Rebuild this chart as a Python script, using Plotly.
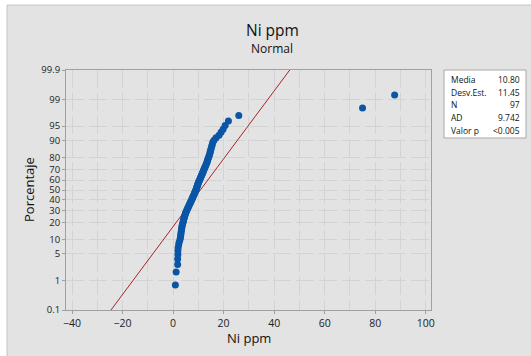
import plotly.graph_objects as go
from statistics import NormalDist

# ---- data ----
ni_ppm = [0.9, 1.2, 1.8, 1.8, 1.9, 1.9, 2.0, 2.2, 2.4, 2.7, 2.9,
          3.0, 3.1, 3.2, 3.3, 3.4, 3.5, 3.6, 3.8, 3.9,
          4.1, 4.2, 4.3, 4.5, 4.6, 4.8, 4.9, 5.1, 5.3,
          5.5, 5.7, 5.9, 6.1, 6.3, 6.5, 6.7, 6.9, 7.1, 7.3,
          7.5, 7.7, 7.8, 8.0, 8.2, 8.4, 8.5, 8.7, 8.9, 9.0,
          9.2, 9.3, 9.4, 9.6, 9.7, 9.8, 10.0, 10.1, 10.3,
          10.5, 10.7, 10.9, 11.0, 11.2, 11.4, 11.6, 11.8, 11.9, 12.1,
          12.3, 12.5, 12.7, 12.9, 13.1, 13.3, 13.5, 13.6, 13.8, 14.0,
          14.2, 14.4, 14.6, 14.7, 14.9, 15.1, 15.3, 15.5, 15.7,
          16.2, 17.0, 18.2, 19.0, 19.8, 20.6, 21.9, 26.0,
          75.0, 87.7]
mean_val = 10.80
sd_val = 11.45
stat_labels = ["Media", "Desv.Est.", "N", "AD", "Valor p"]
stat_values = ["10.80", "11.45", "97", "9.742", "<0.005"]
pct_ticks = [0.1, 1, 5, 10, 20, 30, 40, 50, 60, 70, 80, 90, 95, 99, 99.9]
pct_labels = ["0.1", "1", "5", "10", "20", "30", "40", "50", "60", "70", "80", "90", "95", "99", "99.9"]
x_ticks = [-40, -20, 0, 20, 40, 60, 80, 100]

nd = NormalDist()
n = len(ni_ppm)
xs = sorted(ni_ppm)
zs = [nd.inv_cdf((i + 1 - 0.3) / (n + 0.4)) for i in range(n)]
ytick_z = [nd.inv_cdf(p / 100.0) for p in pct_ticks]
zmin, zmax = nd.inv_cdf(0.001), nd.inv_cdf(0.999)

# layout geometry (pixels)
W, H = 531, 356
L, R, T, B = 66, 431, 70, 310
pw, ph = R - L, B - T
def px(x): return (x - L) / pw
def py(y): return (B - y) / ph

FONT = "Open Sans"
GRID = "#d3d3d3"

fig = go.Figure()
fig.add_trace(go.Scatter(
    x=[mean_val + zmin * sd_val, mean_val + zmax * sd_val], y=[zmin, zmax],
    mode="lines", line=dict(color="#a3262a", width=1), hoverinfo="skip"))
fig.add_trace(go.Scatter(
    x=xs, y=zs, mode="markers",
    marker=dict(color="#0a55a6", size=7, line=dict(width=0))))

shapes = [
    # gray panel
    dict(type="rect", xref="paper", yref="paper",
         x0=px(7), x1=px(W + 5), y0=py(H + 5), y1=py(5),
         fillcolor="#e3e3e3", line=dict(color="#c4c4c4", width=1), layer="below"),
    # stats box
    dict(type="rect", xref="paper", yref="paper",
         x0=px(444), x1=px(526), y0=py(138), y1=py(70),
         fillcolor="white", line=dict(color="#a8a8a8", width=1)),
]

annotations = [
    dict(text="Ni ppm", x=px(272), y=py(30), xref="paper", yref="paper",
         showarrow=False, font=dict(family=FONT, size=15.5, color="#111"),
         xanchor="center", yanchor="middle"),
    dict(text="Normal", x=px(272), y=py(48), xref="paper", yref="paper",
         showarrow=False, font=dict(family=FONT, size=12, color="#111"),
         xanchor="center", yanchor="middle"),
    dict(text="Porcentaje", x=px(29), y=py(190), xref="paper", yref="paper",
         showarrow=False, textangle=-90, font=dict(family=FONT, size=13, color="#111"),
         xanchor="center", yanchor="middle"),
    dict(text="Ni ppm", x=px(249), y=py(338), xref="paper", yref="paper",
         showarrow=False, font=dict(family=FONT, size=13, color="#111"),
         xanchor="center", yanchor="middle"),
]
row_y = [79, 92.5, 104.5, 117.5, 130]
for lab, val, yy in zip(stat_labels, stat_values, row_y):
    annotations.append(dict(text=lab, x=px(449), y=py(yy), xref="paper", yref="paper",
                            showarrow=False, xanchor="left", yanchor="middle",
                            font=dict(family=FONT, size=8.5, color="#111")))
    annotations.append(dict(text=val, x=px(522), y=py(yy), xref="paper", yref="paper",
                            showarrow=False, xanchor="right", yanchor="middle",
                            font=dict(family=FONT, size=8.5, color="#111")))

fig.update_layout(
    width=W, height=H,
    margin=dict(l=L, r=W - R, t=T, b=H - B),
    paper_bgcolor="white", plot_bgcolor="white",
    showlegend=False,
    shapes=shapes, annotations=annotations,
    xaxis=dict(range=[-42.4, 102.1], tickvals=x_ticks,
               showgrid=True, gridcolor=GRID, griddash="18px,5px", gridwidth=1,
               minor=dict(dtick=10, tick0=0, showgrid=True, gridcolor=GRID, griddash="18px,5px"),
               zeroline=False, showline=True, linecolor="#a0a0a0", mirror=True,
               ticks="outside", ticklen=3, tickcolor="#a0a0a0",
               tickfont=dict(family=FONT, size=10.5, color="#222")),
    yaxis=dict(range=[zmin, zmax], tickvals=ytick_z, ticktext=pct_labels,
               showgrid=True, gridcolor=GRID, griddash="18px,5px", gridwidth=1,
               zeroline=False, showline=True, linecolor="#a0a0a0", mirror=True,
               ticks="outside", ticklen=3, tickcolor="#a0a0a0",
               tickfont=dict(family=FONT, size=9.5, color="#222")),
)

fig.write_html("out.html")
